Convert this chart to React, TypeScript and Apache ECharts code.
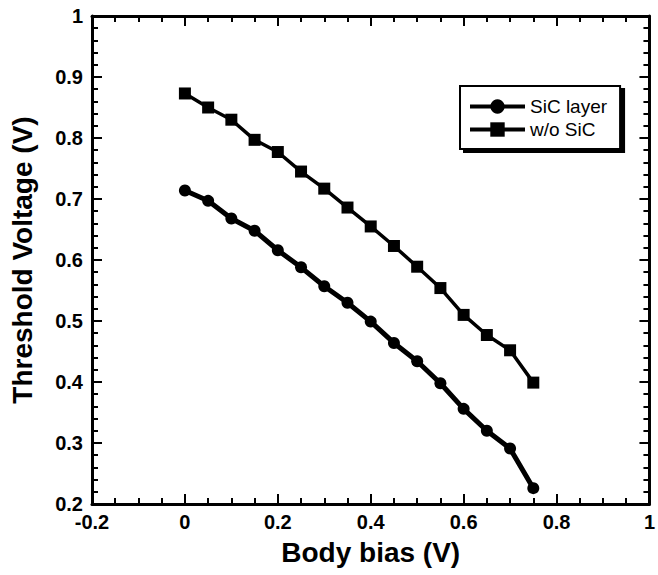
import React, { useEffect, useRef } from "react";
import * as echarts from "echarts";

const biasValues = [0, 0.05, 0.1, 0.15, 0.2, 0.25, 0.3, 0.35, 0.4, 0.45, 0.5, 0.55, 0.6, 0.65, 0.7, 0.75];
const sicLayer = [0.714, 0.697, 0.668, 0.648, 0.616, 0.588, 0.557, 0.530, 0.499, 0.464, 0.434, 0.398, 0.356, 0.320, 0.291, 0.226];
const woSic = [0.873, 0.850, 0.830, 0.797, 0.777, 0.745, 0.717, 0.686, 0.655, 0.623, 0.589, 0.554, 0.510, 0.477, 0.452, 0.399];
const seriesNames = ["SiC layer", "w/o SiC"];

const FONT = "Arial, 'Liberation Sans', Helvetica, sans-serif";

export default function App() {
  const ref = useRef<HTMLDivElement>(null);
  useEffect(() => {
    if (!ref.current) return;
    const chart = echarts.init(ref.current, null, { renderer: "svg" });
    const axisLine = { show: true, onZero: false, lineStyle: { color: "#000", width: 3 } };
    const axisTick = { show: true, inside: true, length: 10, lineStyle: { color: "#000", width: 2 } };
    const minorTick = { show: true, length: 6, lineStyle: { color: "#000", width: 2 } };
    const label = { color: "#000", fontFamily: FONT, fontWeight: "bold" as const, fontSize: 20 };
    const titleStyle = { color: "#000", fontFamily: FONT, fontWeight: "bold" as const, fontSize: 28 };
    chart.setOption({
      animation: false,
      backgroundColor: "#fff",
      grid: { left: 91, right: 2, top: 16, bottom: 71 },
      legend: {
        left: 460,
        top: 86,
        orient: "vertical",
        data: seriesNames,
        itemWidth: 55,
        itemHeight: 18,
        itemGap: 4,
        padding: [11, 13, 10, 8],
        backgroundColor: "#fff",
        borderColor: "#000",
        borderWidth: 2,
        shadowColor: "#000",
        shadowBlur: 0,
        shadowOffsetX: 4,
        shadowOffsetY: 3,
        lineStyle: { width: 4 },
        textStyle: { color: "#000", fontFamily: FONT, fontSize: 19, lineHeight: 19 },
      },
      xAxis: [
        {
          type: "value",
          min: -0.2,
          max: 1,
          interval: 0.2,
          name: "Body bias (V)",
          nameLocation: "middle",
          nameGap: 34,
          nameTextStyle: titleStyle,
          axisLine,
          axisTick,
          minorTick: { ...minorTick, splitNumber: 4 },
          splitLine: { show: false },
          axisLabel: { ...label, margin: 8, formatter: (v: number) => String(Math.round(v * 10) / 10) },
        },
        {
          type: "value",
          position: "top",
          min: -0.2,
          max: 1,
          interval: 0.2,
          axisLine,
          axisTick,
          minorTick: { ...minorTick, splitNumber: 4 },
          splitLine: { show: false },
          axisLabel: { show: false },
        },
      ],
      yAxis: [
        {
          type: "value",
          min: 0.2,
          max: 1,
          interval: 0.1,
          name: "Threshold Voltage (V)",
          nameLocation: "middle",
          nameGap: 56,
          nameTextStyle: titleStyle,
          axisLine,
          axisTick,
          minorTick: { ...minorTick, splitNumber: 5 },
          splitLine: { show: false },
          axisLabel: { ...label, margin: 9, formatter: (v: number) => String(Math.round(v * 10) / 10) },
        },
        {
          type: "value",
          position: "right",
          min: 0.2,
          max: 1,
          interval: 0.1,
          axisLine,
          axisTick,
          minorTick: { ...minorTick, splitNumber: 5 },
          splitLine: { show: false },
          axisLabel: { show: false },
        },
      ],
      series: [
        {
          name: seriesNames[0],
          type: "line",
          data: biasValues.map((x, i) => [x, sicLayer[i]]),
          symbol: "circle",
          symbolSize: 12,
          itemStyle: { color: "#000" },
          lineStyle: { color: "#000", width: 5 },
        },
        {
          name: seriesNames[1],
          type: "line",
          data: biasValues.map((x, i) => [x, woSic[i]]),
          symbol: "rect",
          symbolSize: 12,
          itemStyle: { color: "#000" },
          lineStyle: { color: "#000", width: 3.5 },
        },
      ],
    });
    return () => chart.dispose();
  }, []);
  return <div ref={ref} style={{ width: 658, height: 575, position: "absolute", left: 0, top: 0 }} />;
}
